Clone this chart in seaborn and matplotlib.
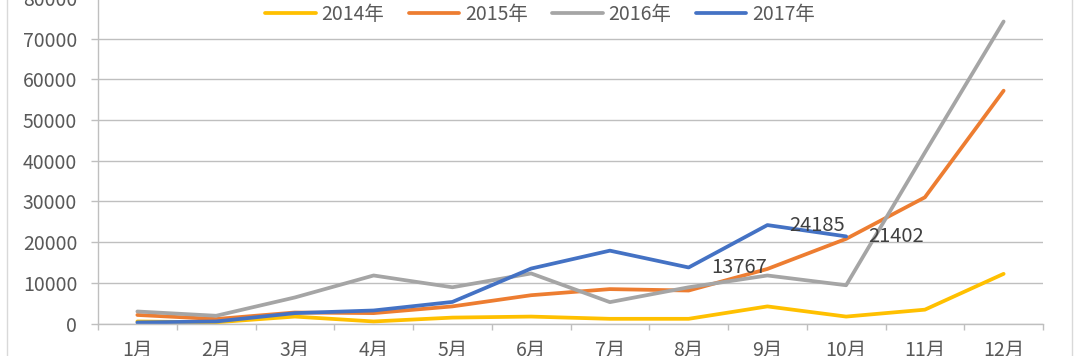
import numpy as np
import pandas as pd
import matplotlib
matplotlib.use('Agg')
import matplotlib.pyplot as plt
from matplotlib.patches import FancyBboxPatch
import seaborn as sns

sns.set_theme(style='white')
plt.rcParams['font.family'] = ['Noto Sans CJK SC', 'DejaVu Sans']

months = ['1月', '2月', '3月', '4月', '5月', '6月', '7月', '8月', '9月', '10月', '11月', '12月']
years = ['2014年', '2015年', '2016年', '2017年']
v2014 = [500, 300, 1700, 500, 1450, 1700, 1150, 1150, 4200, 1700, 3400, 12200]
v2015 = [2100, 1100, 2700, 2550, 4200, 6950, 8450, 8100, 13400, 20800, 31000, 57200]
v2016 = [2950, 1900, 6400, 11800, 8900, 12300, 5250, 8900, 11800, 9400, 42000, 74200]
v2017 = [250, 500, 2550, 3200, 5300, 13500, 17900, 13767, 24185, 21402, np.nan, np.nan]
labelled_2017 = ['8月', '9月', '10月']
colors = ['#FFC000', '#ED7D31', '#A5A5A5', '#4472C4']

df = pd.DataFrame({
    'month': months * 4,
    'year': np.repeat(years, len(months)),
    'value': v2014 + v2015 + v2016 + v2017,
}).dropna()

fig = plt.figure(figsize=(10.8, 3.56), dpi=100)
ax = fig.add_axes([98 / 1080, 32.5 / 356, 945 / 1080, 325.6 / 356])

sns.lineplot(data=df, x='month', y='value', hue='year', palette=colors,
             sort=False, linewidth=2.7, ax=ax)

# data labels on the 2017 series
sub = df[(df['year'] == '2017年') & (df['month'].isin(labelled_2017))]
for _, r in sub.iterrows():
    ax.annotate(f"{int(r['value'])}", (months.index(r['month']), r['value']),
                xytext=(16, 0), textcoords='offset points', ha='left', va='center',
                fontsize=14.5, color='#404040')

grid_c = '#BFBFBF'
ax.set_xlim(-0.5, len(months) - 0.5)
ax.set_ylim(0, 80000)
ax.set_yticks(np.arange(0, 80001, 10000))
ax.yaxis.grid(True, color=grid_c, linewidth=1)
ax.set_xticks(range(len(months)))
ax.set_xticks(np.arange(-0.5, len(months), 1), minor=True)
ax.tick_params(axis='x', which='major', length=0, pad=12, labelsize=14, labelcolor='#595959')
ax.tick_params(axis='x', which='minor', length=4, width=1, color=grid_c, bottom=True)
ax.tick_params(axis='y', length=5, width=1, color=grid_c, left=True, pad=10,
               labelsize=14, labelcolor='#595959')
for s in ['top', 'right']:
    ax.spines[s].set_visible(False)
for s in ['left', 'bottom']:
    ax.spines[s].set_color(grid_c)
    ax.spines[s].set_linewidth(1)
ax.set_xlabel('')
ax.set_ylabel('')

h, l = ax.get_legend_handles_labels()
ax.get_legend().remove()
leg = fig.legend(h, l, loc='center', bbox_to_anchor=(0.5, 1 - 14 / 356), ncol=4,
                 frameon=False, fontsize=14, handlelength=2.6, handletextpad=0.3,
                 columnspacing=1.25, labelcolor='#595959')
for ln in leg.get_lines():
    ln.set_linewidth(2.7)

# outer chart border
fig.patches.append(FancyBboxPatch((7 / 1080, -0.05), 1065 / 1080, 1.1,
                                  boxstyle='square,pad=0', transform=fig.transFigure,
                                  fill=False, edgecolor='#D9D9D9', linewidth=1))

fig.savefig('out.png', dpi=100)
